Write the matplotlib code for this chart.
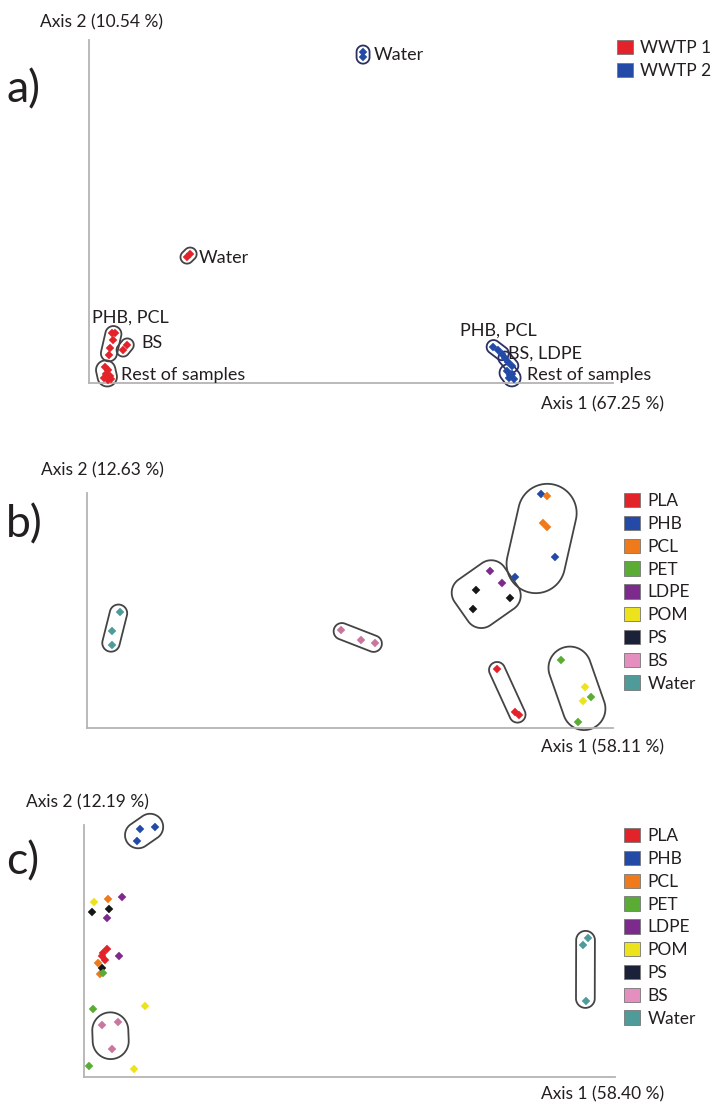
import matplotlib
matplotlib.use("Agg")
import matplotlib.pyplot as plt
import numpy as np
from matplotlib.patches import Polygon, Patch

plt.rcParams.update({
    "font.family": ["Lato", "DejaVu Sans"],
    "text.color": "#231f20",
})

# --- colours ---
WWTP_COLORS = {"WWTP 1": "#e3232a", "WWTP 2": "#234aa6"}
POLY_COLORS = {
    "PLA": "#e3232a", "PHB": "#234aa6", "PCL": "#ef7a1c", "PET": "#5aac35",
    "LDPE": "#7c2a8c", "POM": "#ece31c", "PS": "#1b2138", "BS": "#e58fc0",
    "Water": "#4f9b9a",
}
POINT_COLORS = dict(POLY_COLORS, BS="#c8789f", PS="#161616")
OUTLINE = "#444444"

# --- panel a: PCoA, both plants (axis units 0-100) ---
a_w1_water_x = [18.7, 19.3]
a_w1_water_y = [36.7, 37.6]
a_w1_phbpcl_x = [4.4, 5.0, 4.6, 4.0, 3.8]
a_w1_phbpcl_y = [14.6, 14.6, 12.5, 10.2, 8.2]
a_w1_bs_x = [7.3, 6.5]
a_w1_bs_y = [11.1, 9.6]
a_w1_rest_x = [3.1, 3.6, 3.2, 4.0, 2.9, 3.6, 4.2, 3.4]
a_w1_rest_y = [4.7, 3.8, 2.6, 2.0, 1.5, 0.9, 1.2, 1.7]
a_w2_water_x = [52.3, 52.3]
a_w2_water_y = [96.5, 95.0]
a_w2_phbpcl_x = [77.1, 78.1, 78.8]
a_w2_phbpcl_y = [10.5, 9.6, 8.5]
a_w2_bsldpe_x = [79.4, 80.0, 80.7]
a_w2_bsldpe_y = [7.3, 6.1, 5.0]
a_w2_rest_x = [79.8, 80.7, 80.2, 81.1, 80.3]
a_w2_rest_y = [3.5, 2.6, 1.5, 1.2, 2.3]

# --- panel b: PCoA, one plant ---
b_points = {
    "PHB": ([86.3, 89.0, 81.4], [99.6, 72.8, 64.3]),
    "PCL": ([87.5, 86.7, 87.5], [98.7, 87.2, 85.5]),
    "LDPE": ([76.6, 78.9], [66.8, 61.7]),
    "PS": ([74.0, 80.4, 73.4], [58.7, 55.3, 50.6]),
    "PLA": ([77.9, 81.4, 82.1], [25.1, 6.8, 5.5]),
    "PET": ([90.1, 95.8, 93.3], [28.9, 13.2, 2.6]),
    "POM": ([94.7, 94.3], [17.4, 11.5]),
    "BS": ([48.3, 52.1, 54.8], [41.7, 37.4, 36.2]),
    "Water": ([6.3, 4.8, 4.8], [49.4, 41.3, 35.3]),
}
# (members, padding px, corner radius px or None for fully round ends)
b_groups = [(["PHB", "PCL"], 12, None), (["LDPE", "PS"], 11, 16),
            (["PLA"], 7, None), (["PET", "POM"], 11, None),
            (["BS"], 7, None), (["Water"], 7, None)]

# --- panel c: PCoA, other plant ---
c_points = {
    "PHB": ([10.5, 13.4, 10.0], [98.4, 99.2, 93.7]),
    "POM": ([1.9, 11.5, 9.4], [69.4, 28.2, 3.2]),
    "PCL": ([4.5, 2.6, 3.0], [70.6, 45.2, 40.9]),
    "LDPE": ([7.2, 4.3, 6.6], [71.4, 63.1, 48.0]),
    "PS": ([1.5, 4.7, 3.4], [65.5, 66.7, 43.3]),
    "PLA": ([4.3, 3.6, 4.0, 3.4], [50.8, 49.2, 46.4, 48.0]),
    "PET": ([3.6, 1.7, 0.9], [41.3, 27.0, 4.4]),
    "BS": ([3.4, 6.4, 5.3], [20.6, 21.8, 11.1]),
    "Water": ([94.9, 94.0, 94.5], [55.2, 52.4, 30.2]),
}
c_groups = [(["PHB"], 9, None), (["BS"], 10, None), (["Water"], 7, None)]

legend_labels = ["PLA", "PHB", "PCL", "PET", "LDPE", "POM", "PS", "BS", "Water"]


def enclose(ax, xs, ys, pad, radius=None, color=OUTLINE, lw=1.3):
    """Rounded outline around a group of points, built in pixel space."""
    pts = ax.transData.transform(np.column_stack([xs, ys]))
    c = pts.mean(axis=0)
    d = pts - c
    w, v = np.linalg.eigh(d.T @ d)
    e1 = v[:, np.argmax(w)]
    e2 = np.array([-e1[1], e1[0]])
    u, t = d @ e1, d @ e2
    u0, u1 = u.min() - pad, u.max() + pad
    t0, t1 = t.min() - pad, t.max() + pad
    half = min(u1 - u0, t1 - t0) / 2
    r = half if radius is None else min(radius, half)
    corners = [((u1 - r, t1 - r), 0), ((u0 + r, t1 - r), 90),
               ((u0 + r, t0 + r), 180), ((u1 - r, t0 + r), 270)]
    ring = []
    for (cu, ct), a0 in corners:
        ang = np.radians(np.linspace(a0, a0 + 90, 30))
        ring.append(np.column_stack([cu + r * np.cos(ang), ct + r * np.sin(ang)]))
    ring = np.vstack(ring)
    disp = c + ring[:, :1] * e1 + ring[:, 1:] * e2
    ax.add_patch(Polygon(ax.transData.inverted().transform(disp), closed=True,
                         fill=False, ec=color, lw=lw, clip_on=False, zorder=2))


def setup(ax):
    ax.set_xlim(0, 100)
    ax.set_ylim(0, 100)
    ax.set_xticks([])
    ax.set_yticks([])
    for s in ("top", "right"):
        ax.spines[s].set_visible(False)
    for s in ("left", "bottom"):
        ax.spines[s].set_color("#b4b4b4")
        ax.spines[s].set_linewidth(1.3)
    ax.patch.set_alpha(0)


def dots(ax, xs, ys, color):
    ax.plot(xs, ys, "D", ms=3.8, color=color, mec=color, mew=0.3,
            clip_on=False, zorder=3)


W, H = 713, 1104
fig = plt.figure(figsize=(W / 100, H / 100), dpi=100)


def frac(x0, y0, x1, y1):
    return [x0 / W, 1 - y1 / H, (x1 - x0) / W, (y1 - y0) / H]


ax_title = dict(fontsize=12.5, va="center")
panel_tag = dict(fontsize=32, ha="left", va="center")

# ---------------- a) ----------------
ax = fig.add_axes(frac(89, 40, 613, 383))
setup(ax)
w1 = WWTP_COLORS["WWTP 1"]
w2 = WWTP_COLORS["WWTP 2"]
for xs, ys in [(a_w1_water_x, a_w1_water_y), (a_w1_phbpcl_x, a_w1_phbpcl_y),
               (a_w1_bs_x, a_w1_bs_y), (a_w1_rest_x, a_w1_rest_y)]:
    dots(ax, xs, ys, w1)
    enclose(ax, xs, ys, 6.5)
for xs, ys in [(a_w2_water_x, a_w2_water_y), (a_w2_phbpcl_x, a_w2_phbpcl_y),
               (a_w2_bsldpe_x, a_w2_bsldpe_y), (a_w2_rest_x, a_w2_rest_y)]:
    dots(ax, xs, ys, w2)
    enclose(ax, xs, ys, 6.5, color="#2b3060")

lab = dict(fontsize=13, va="center", ha="left")
ax.text(54.4, 95.6, "Water", **lab)
ax.text(21.0, 36.4, "Water", **lab)
ax.text(0.6, 19.2, "PHB, PCL", **lab)
ax.text(10.0, 11.7, "BS", **lab)
ax.text(6.2, 2.3, "Rest of samples", **lab)
ax.text(70.8, 15.4, "PHB, PCL", **lab)
ax.text(80.0, 8.7, "BS, LDPE", **lab)
ax.text(83.6, 2.3, "Rest of samples", **lab)

fig.text(102 / W, 1 - 22 / H, "Axis 2 (10.54 %)", ha="center", **ax_title)
fig.text(664 / W, 1 - 404 / H, "Axis 1 (67.25 %)", ha="right", **ax_title)
fig.text(6 / W, 1 - 90 / H, "a)", **panel_tag)

leg_kw = dict(loc="upper left", frameon=False, fontsize=12.5, borderpad=0,
              borderaxespad=0, handlelength=0.9, handleheight=0.9,
              handletextpad=0.45, labelspacing=0.38)
fig.legend([Patch(fc=c, ec="#777777", lw=0.6) for c in WWTP_COLORS.values()],
           list(WWTP_COLORS), bbox_to_anchor=(617 / W, 1 - 40 / H), **leg_kw)

# ---------------- b) ----------------
ax = fig.add_axes(frac(87, 493, 613, 728))
setup(ax)
for k, (xs, ys) in b_points.items():
    dots(ax, xs, ys, POINT_COLORS[k])
for keys, pad, rad in b_groups:
    xs = sum((b_points[k][0] for k in keys), [])
    ys = sum((b_points[k][1] for k in keys), [])
    enclose(ax, xs, ys, pad, rad)

fig.text(102 / W, 1 - 470 / H, "Axis 2 (12.63 %)", ha="center", **ax_title)
fig.text(664 / W, 1 - 747 / H, "Axis 1 (58.11 %)", ha="right", **ax_title)
fig.text(6 / W, 1 - 525 / H, "b)", **panel_tag)
fig.legend([Patch(fc=POLY_COLORS[k], ec="#777777", lw=0.6) for k in legend_labels],
           legend_labels, bbox_to_anchor=(624 / W, 1 - 493 / H), **leg_kw)

# ---------------- c) ----------------
ax = fig.add_axes(frac(84, 825, 615, 1077))
setup(ax)
for k, (xs, ys) in c_points.items():
    dots(ax, xs, ys, POINT_COLORS[k])
for keys, pad, rad in c_groups:
    xs = sum((c_points[k][0] for k in keys), [])
    ys = sum((c_points[k][1] for k in keys), [])
    enclose(ax, xs, ys, pad, rad)

fig.text(87 / W, 1 - 802 / H, "Axis 2 (12.19 %)", ha="center", **ax_title)
fig.text(664 / W, 1 - 1094 / H, "Axis 1 (58.40 %)", ha="right", **ax_title)
fig.text(6 / W, 1 - 862 / H, "c)", **panel_tag)
fig.legend([Patch(fc=POLY_COLORS[k], ec="#777777", lw=0.6) for k in legend_labels],
           legend_labels, bbox_to_anchor=(624 / W, 1 - 828 / H), **leg_kw)

fig.savefig("out.png", dpi=100)
